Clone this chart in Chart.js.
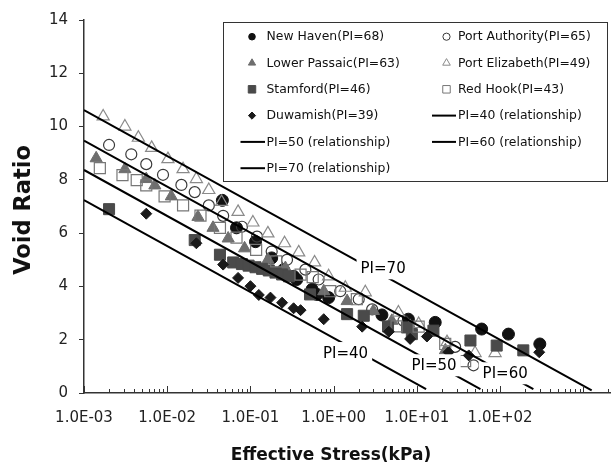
<!DOCTYPE html>
<html>
<head>
<meta charset="utf-8">
<script src="https://cdn.jsdelivr.net/npm/chart.js@4.4.1/dist/chart.umd.min.js"></script>
<style>
  html, body { margin: 0; padding: 0; background: #fff; }
  #wrap { width: 611px; height: 469px; }
</style>
</head>
<body>
<div id="wrap"><canvas id="chart" width="611" height="469"></canvas></div>
<script>
// Effective stress (kPa) and void ratio for each site
const newHavenStress = [0.046, 0.068, 0.115, 0.18, 0.25, 0.33, 0.36, 0.55, 0.63, 0.87, 3.8, 7.9, 16.6, 60, 126, 300];
const newHavenVoid   = [7.23, 6.2, 5.68, 5.07, 4.63, 4.38, 4.26, 3.89, 3.7, 3.58, 2.93, 2.77, 2.65, 2.4, 2.21, 1.84];

const portAuthorityStress = [0.0020, 0.0037, 0.0056, 0.0089, 0.0148, 0.0214, 0.0316, 0.047, 0.079, 0.12, 0.18, 0.275, 0.457, 0.66, 1.2, 2.0, 2.9, 6.9, 28.8, 47.9];
const portAuthorityVoid   = [9.31, 8.96, 8.59, 8.19, 7.81, 7.54, 7.04, 6.65, 6.24, 5.87, 5.31, 5.0, 4.63, 4.26, 3.82, 3.52, 3.14, 2.71, 1.73, 1.04];

const lowerPassaicStress = [0.0014, 0.0031, 0.0056, 0.0071, 0.0112, 0.0234, 0.0355, 0.054, 0.085, 0.162, 0.263, 0.76, 1.45, 3.0, 5.0, 8.3, 22];
const lowerPassaicVoid   = [8.81, 8.4, 8.03, 7.79, 7.38, 6.61, 6.2, 5.8, 5.43, 5.0, 4.69, 3.82, 3.45, 3.08, 2.71, 2.52, 1.6];

const portElizabethStress = [0.0017, 0.0031, 0.0045, 0.0065, 0.0102, 0.0155, 0.0224, 0.0316, 0.045, 0.071, 0.107, 0.162, 0.257, 0.38, 0.59, 0.87, 1.38, 2.4, 6.0, 10.5, 23, 50, 87];
const portElizabethVoid   = [10.38, 10.0, 9.58, 9.2, 8.78, 8.4, 8.03, 7.62, 7.17, 6.8, 6.4, 5.99, 5.62, 5.28, 4.9, 4.38, 3.95, 3.78, 3.02, 2.59, 1.91, 1.5, 1.5];

const stamfordStress = [0.0020, 0.0214, 0.043, 0.062, 0.079, 0.095, 0.115, 0.138, 0.166, 0.2, 0.24, 0.29, 0.52, 1.45, 2.3, 4.5, 7.6, 8.7, 15.8, 44, 91, 190];
const stamfordVoid   = [6.9, 5.74, 5.19, 4.9, 4.84, 4.78, 4.72, 4.66, 4.6, 4.52, 4.45, 4.38, 3.7, 2.96, 2.9, 2.5, 2.46, 2.21, 2.34, 1.97, 1.78, 1.6];

const redHookStress = [0.00155, 0.0029, 0.0043, 0.0056, 0.0093, 0.0155, 0.0251, 0.043, 0.068, 0.117, 0.204, 0.4, 0.56, 0.91, 1.9, 5.7, 10.5, 21.9, 38];
const redHookVoid   = [8.44, 8.18, 7.99, 7.79, 7.38, 7.04, 6.66, 6.2, 5.83, 5.37, 4.94, 4.44, 4.35, 3.82, 3.52, 2.5, 2.49, 1.84, 1.2];

const duwamishStress = [0.0056, 0.0224, 0.047, 0.071, 0.1, 0.126, 0.174, 0.24, 0.33, 0.4, 0.76, 2.2, 4.6, 8.3, 13.2, 24, 42, 295];
const duwamishVoid   = [6.73, 5.62, 4.82, 4.32, 4.01, 3.68, 3.58, 3.39, 3.18, 3.11, 2.77, 2.49, 2.3, 2.03, 2.12, 1.53, 1.41, 1.53];

// PI relationship lines: end points (stress, void ratio)
const pi40Stress = [0.001, 12.9];  const pi40Void = [7.24, 0.15];
const pi50Stress = [0.001, 58];    const pi50Void = [8.37, 0.15];
const pi60Stress = [0.001, 251];   const pi60Void = [9.47, 0.15];
const pi70Stress = [0.001, 1260];  const pi70Void = [10.62, 0.1];

// Axis ticks
const xTickValues = [0.001, 0.01, 0.1, 1, 10, 100];
const xTickLabels = ['1.0E-03', '1.0E-02', '1.0E-01', '1.0E+00', '1.0E+01', '1.0E+02'];
const yTickValues = [0, 2, 4, 6, 8, 10, 12, 14];

// In-plot line labels, anchored at (stress, void ratio)
const lineLabelText   = ['PI=70', 'PI=40', 'PI=50', 'PI=60'];
const lineLabelStress = [3.93, 1.39, 16.1, 115];
const lineLabelVoid   = [4.68, 1.50, 1.04, 0.74];

const FONT = '"DejaVu Sans", Verdana, sans-serif';

function pts(xs, ys) { return xs.map((x, i) => ({ x: x, y: ys[i] })); }

const series = [
  { label: 'New Haven(PI=68)',      data: pts(newHavenStress, newHavenVoid),           style: 'circle',   r: 6,   fill: '#111111', stroke: '#111111', bw: 1,   lr: 3.3 },
  { label: 'Port Authority(PI=65)', data: pts(portAuthorityStress, portAuthorityVoid), style: 'circle',   r: 5.5, fill: 'rgba(0,0,0,0)', stroke: '#3a3a3a', bw: 1.2, lr: 3.6 },
  { label: 'Lower Passaic(PI=63)',  data: pts(lowerPassaicStress, lowerPassaicVoid),   style: 'triangle', r: 7,   fill: '#6e6e6e', stroke: '#6e6e6e', bw: 1,   lr: 4.2 },
  { label: 'Port Elizabeth(PI=49)', data: pts(portElizabethStress, portElizabethVoid), style: 'triangle', r: 7,   fill: 'rgba(0,0,0,0)', stroke: '#8a8a8a', bw: 1.2, lr: 4.4 },
  { label: 'Stamford(PI=46)',       data: pts(stamfordStress, stamfordVoid),           style: 'rect',     r: 7.8, fill: '#4a4a4a', stroke: '#4a4a4a', bw: 1,   lr: 5.3 },
  { label: 'Red Hook(PI=43)',       data: pts(redHookStress, redHookVoid),             style: 'rect',     r: 7.8, fill: 'rgba(0,0,0,0)', stroke: '#777777', bw: 1.2, lr: 5.3 },
  { label: 'Duwamish(PI=39)',       data: pts(duwamishStress, duwamishVoid),           style: 'rectRot',  r: 5.5, fill: '#1a1a1a', stroke: '#1a1a1a', bw: 1,   lr: 3.6 }
];
const relLines = [
  { label: 'PI=40 (relationship)', data: pts(pi40Stress, pi40Void) },
  { label: 'PI=50 (relationship)', data: pts(pi50Stress, pi50Void) },
  { label: 'PI=60 (relationship)', data: pts(pi60Stress, pi60Void) },
  { label: 'PI=70 (relationship)', data: pts(pi70Stress, pi70Void) }
];

const datasets = [];
series.forEach((s, i) => datasets.push({
  label: s.label, data: s.data, showLine: false,
  pointStyle: s.style, pointRadius: s.r, pointHoverRadius: s.r,
  pointBackgroundColor: s.fill, pointBorderColor: s.stroke, pointBorderWidth: s.bw,
  order: 20 - i, _legend: s
}));
relLines.forEach(l => datasets.push({
  label: l.label, data: l.data, showLine: true, pointRadius: 0,
  borderColor: '#000', borderWidth: 2, order: 0, _legend: { line: true }
}));

// Marker outline for the legend samples
function markerPath(ctx, style, x, y, r) {
  ctx.beginPath();
  if (style === 'circle') {
    ctx.arc(x, y, r, 0, Math.PI * 2);
  } else if (style === 'triangle') {
    for (let k = 0; k < 3; k++) {
      const a = k * 2 * Math.PI / 3;
      const px = x + Math.sin(a) * r, py = y - Math.cos(a) * r;
      if (k === 0) ctx.moveTo(px, py); else ctx.lineTo(px, py);
    }
  } else if (style === 'rect') {
    const h = r * Math.SQRT1_2;
    ctx.rect(x - h, y - h, 2 * h, 2 * h);
  } else if (style === 'rectRot') {
    ctx.moveTo(x - r, y); ctx.lineTo(x, y - r); ctx.lineTo(x + r, y); ctx.lineTo(x, y + r);
  }
  ctx.closePath();
}

const decorPlugin = {
  id: 'decor',
  afterDatasetsDraw(chart) {
    const ctx = chart.ctx, xs = chart.scales.x, ys = chart.scales.y;
    // line labels on white boxes
    ctx.save();
    ctx.font = '15px ' + FONT;
    ctx.textAlign = 'center';
    ctx.textBaseline = 'middle';
    lineLabelText.forEach((t, i) => {
      const cx = xs.getPixelForValue(lineLabelStress[i]);
      const cy = ys.getPixelForValue(lineLabelVoid[i]);
      const w = ctx.measureText(t).width;
      ctx.fillStyle = '#fff';
      ctx.fillRect(cx - w / 2 - 4, cy - 11, w + 8, 22);
      ctx.fillStyle = '#000';
      ctx.fillText(t, cx, cy + 1);
    });
    ctx.restore();
  },
  afterDraw(chart) {
    const ctx = chart.ctx, xs = chart.scales.x, ys = chart.scales.y;
    ctx.save();
    // x axis tick marks, pointing into the plot
    ctx.strokeStyle = '#333';
    ctx.lineWidth = 1;
    const yb = Math.round(ys.getPixelForValue(0));
    for (let d = -3; d <= 3; d++) {
      for (let m = 1; m <= 9; m++) {
        const v = m * Math.pow(10, d);
        if (v < xs.min || v > xs.max) continue;
        const px = Math.round(xs.getPixelForValue(v)) + 0.5;
        const len = m === 1 ? 7 : 4;
        ctx.beginPath();
        ctx.moveTo(px, yb);
        ctx.lineTo(px, yb - len);
        ctx.stroke();
      }
    }
    // axis titles
    ctx.fillStyle = '#111';
    ctx.font = 'bold 17px ' + FONT;
    ctx.textAlign = 'center';
    ctx.textBaseline = 'middle';
    ctx.fillText('Effective Stress(kPa)', 331, 456);
    ctx.translate(24, 210);
    ctx.rotate(-Math.PI / 2);
    ctx.font = 'bold 22.5px ' + FONT;
    ctx.fillText('Void Ratio', 0, 0);
    ctx.restore();

    // legend box
    ctx.save();
    const bx = 223.5, by = 22.5, bw = 384, bh = 159;
    ctx.fillStyle = '#fff';
    ctx.fillRect(bx, by, bw, bh);
    ctx.strokeStyle = '#333';
    ctx.lineWidth = 1;
    ctx.strokeRect(bx, by, bw, bh);
    ctx.font = '12.4px ' + FONT;
    ctx.textBaseline = 'middle';
    ctx.textAlign = 'left';
    const colMarker = [252, 446.5], colText = [266.5, 458];
    const colLine = [[240.5, 265], [432, 456]];
    chart.data.datasets.forEach((ds, i) => {
      const row = Math.floor(i / 2), col = i % 2;
      const y = 36.7 + row * 26.3;
      const lg = ds._legend;
      if (lg.line) {
        ctx.strokeStyle = '#000';
        ctx.lineWidth = 2;
        ctx.beginPath();
        ctx.moveTo(colLine[col][0], y);
        ctx.lineTo(colLine[col][1], y);
        ctx.stroke();
      } else {
        markerPath(ctx, lg.style, colMarker[col], y, lg.lr);
        ctx.fillStyle = lg.fill;
        ctx.fill();
        ctx.strokeStyle = lg.stroke;
        ctx.lineWidth = 1;
        ctx.stroke();
      }
      ctx.fillStyle = '#111';
      ctx.fillText(ds.label, colText[col], y + 0.5);
    });
    ctx.restore();
  }
};

new Chart(document.getElementById('chart'), {
  type: 'scatter',
  data: { datasets: datasets },
  plugins: [decorPlugin],
  options: {
    responsive: false,
    animation: false,
    devicePixelRatio: 1,
    layout: { autoPadding: false, padding: { left: 0, top: 16, right: 0, bottom: 0 } },
    plugins: { legend: { display: false }, tooltip: { enabled: false } },
    scales: {
      x: {
        type: 'logarithmic',
        position: 'bottom',
        min: 0.001,
        max: 2150,
        afterBuildTicks(scale) { scale.ticks = xTickValues.map(v => ({ value: v })); },
        afterFit(scale) { scale.height = 76; },
        ticks: {
          autoSkip: false, maxRotation: 0, minRotation: 0,
          padding: 16, color: '#222',
          font: { family: FONT, size: 15 },
          callback: (v, i) => xTickLabels[i]
        },
        grid: { display: false, drawTicks: false },
        border: { display: true, color: '#333', width: 1.5 }
      },
      y: {
        type: 'linear',
        min: 0, max: 14,
        afterBuildTicks(scale) { scale.ticks = yTickValues.map(v => ({ value: v })); },
        afterFit(scale) { scale.width = 84; },
        ticks: {
          padding: 11, color: '#222',
          font: { family: FONT, size: 15 }
        },
        grid: { drawOnChartArea: false, drawTicks: true, tickLength: 5, color: '#333', lineWidth: 1 },
        border: { display: true, color: '#333', width: 1.5 }
      }
    }
  }
});
</script>
</body>
</html>
